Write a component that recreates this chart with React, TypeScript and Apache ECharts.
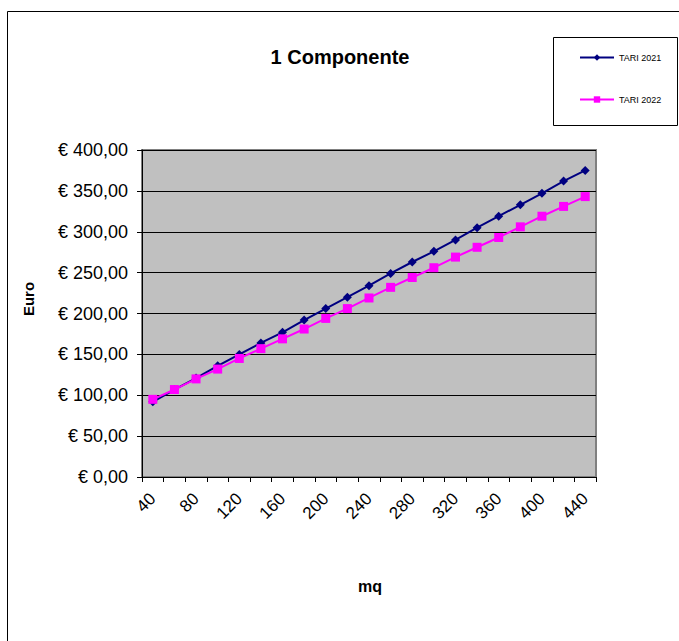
import React, { useEffect, useRef } from "react";
import * as echarts from "echarts";

const categories = ["40", "60", "80", "100", "120", "140", "160", "180", "200", "220", "240", "260", "280", "300", "320", "340", "360", "380", "400", "420", "440"];
const tari2021 = [92, 107, 121, 136, 150, 164, 177, 192, 206, 220, 234, 249, 263, 276, 290, 305, 319, 333, 347, 362, 375];
const tari2022 = [95, 107, 120, 132, 145, 157, 169, 181, 194, 206, 219, 232, 244, 256, 269, 281, 293, 306, 319, 331, 343];
const seriesNames = ["TARI 2021", "TARI 2022"];
const titleText = "1 Componente";
const yTitle = "Euro";
const xTitle = "mq";

export default function App() {
  const ref = useRef<HTMLDivElement>(null);
  useEffect(() => {
    if (!ref.current) return;
    const chart = echarts.init(ref.current, null, { renderer: "svg" });
    const font = "Arial, 'Liberation Sans', sans-serif";
    chart.setOption({
      animation: false,
      backgroundColor: "#fff",
      grid: {
        left: 142,
        top: 150,
        width: 454,
        height: 327,
        show: true,
        backgroundColor: "#C0C0C0",
        borderColor: "#808080",
        borderWidth: 2,
        containLabel: false,
      },
      legend: {
        orient: "vertical",
        left: 579,
        top: 53,
        itemWidth: 34,
        itemHeight: 8,
        itemGap: 33,
        padding: 0,
        textStyle: { fontSize: 9, fontFamily: font, color: "#000" },
        data: seriesNames,
      },
      xAxis: {
        type: "category",
        data: categories,
        boundaryGap: true,
        axisLine: { show: true, lineStyle: { color: "#000", width: 1 } },
        axisTick: { show: true, interval: 0, length: 5, lineStyle: { color: "#000" } },
        axisLabel: {
          interval: 1,
          rotate: 45,
          fontSize: 17,
          fontFamily: font,
          color: "#000",
          margin: 19,
        },
        splitLine: { show: false },
      },
      yAxis: {
        type: "value",
        min: 0,
        max: 400,
        interval: 50,
        axisLine: { show: true, lineStyle: { color: "#000", width: 1 } },
        axisTick: { show: true, length: 5, lineStyle: { color: "#000" } },
        axisLabel: {
          fontSize: 18,
          fontFamily: font,
          color: "#000",
          margin: 14,
          formatter: (v: number) => "€ " + v.toFixed(2).replace(".", ","),
        },
        splitLine: { show: true, lineStyle: { color: "#000", width: 1 } },
      },
      series: [
        {
          name: seriesNames[0],
          type: "line",
          data: tari2021,
          symbol: "diamond",
          symbolSize: 9,
          color: "#000080",
          lineStyle: { color: "#000080", width: 2 },
          itemStyle: { color: "#000080" },
        },
        {
          name: seriesNames[1],
          type: "line",
          data: tari2022,
          symbol: "rect",
          symbolSize: 9,
          color: "#FF00FF",
          lineStyle: { color: "#FF00FF", width: 2 },
          itemStyle: { color: "#FF00FF" },
        },
      ],
      graphic: [
        {
          type: "rect",
          shape: { x: 7.5, y: 11.5, width: 800, height: 800 },
          style: { fill: "none", stroke: "#000", lineWidth: 1 },
          silent: true,
          z: -10,
        },
        {
          type: "rect",
          shape: { x: 553.5, y: 37.5, width: 124, height: 88 },
          style: { fill: "none", stroke: "#000", lineWidth: 1 },
          silent: true,
        },
        {
          type: "text",
          x: 340,
          y: 57,
          style: {
            text: titleText,
            font: "bold 20px " + font,
            fill: "#000",
            align: "center",
            verticalAlign: "middle",
          },
        },
        {
          type: "text",
          x: 28,
          y: 299,
          rotation: Math.PI / 2,
          style: {
            text: yTitle,
            font: "bold 15px " + font,
            fill: "#000",
            align: "center",
            verticalAlign: "middle",
          },
        },
        {
          type: "text",
          x: 370,
          y: 586,
          style: {
            text: xTitle,
            font: "bold 16px " + font,
            fill: "#000",
            align: "center",
            verticalAlign: "middle",
          },
        },
      ],
    });
    return () => chart.dispose();
  }, []);
  return (
    <div
      ref={ref}
      style={{ position: "absolute", left: 0, top: 0, width: 679, height: 641 }}
    />
  );
}
